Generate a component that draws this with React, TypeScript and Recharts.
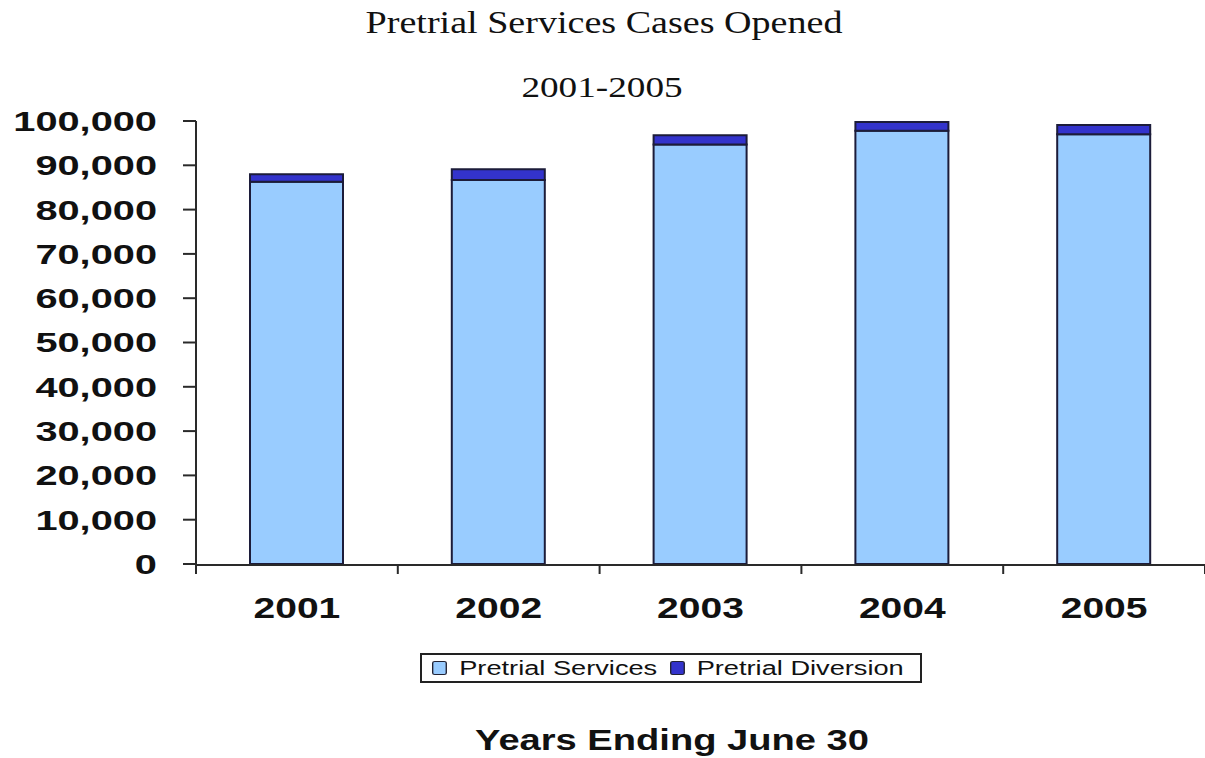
import React from 'react';
import { BarChart, Bar, XAxis, YAxis, Legend } from 'recharts';

const years = ['2001', '2002', '2003', '2004', '2005'];
const pretrialServices = [86300, 86700, 94700, 97800, 97000];
const pretrialDiversion = [1700, 2400, 2100, 2000, 2100];
const yTicks = [0, 10000, 20000, 30000, 40000, 50000, 60000, 70000, 80000, 90000, 100000];
const boundaryTicks = [0, 1, 2, 3, 4, 5];
const seriesNames = ['Pretrial Services', 'Pretrial Diversion'];

const titleLine1 = 'Pretrial Services Cases Opened';
const titleLine2 = '2001-2005';
const xTitle = 'Years Ending June 30';

const data = years.map((year, i) => ({
  year,
  slot: i + 0.5,
  services: pretrialServices[i],
  diversion: pretrialDiversion[i],
}));

const AXIS = '#2a2a2a';
const BAR_STROKE = '#1c1c3a';
const SANS = '"Liberation Sans", Arial, sans-serif';
const SERIF = '"Liberation Serif", "Times New Roman", serif';

const YTick = (props: any) => {
  const { x, y, payload } = props;
  return (
    <text
      x={x}
      y={y}
      dy="0.355em"
      textAnchor="end"
      fill="#111"
      fontSize={28}
      fontWeight="bold"
      fontFamily={SANS}
      transform={`translate(${x} ${y}) scale(1.42 1) translate(${-x} ${-y})`}
    >
      {Number(payload.value).toLocaleString('en-US')}
    </text>
  );
};

const XTick = (props: any) => {
  const { x, y, payload } = props;
  return (
    <text
      x={x}
      y={y}
      dy="0.71em"
      textAnchor="middle"
      fill="#111"
      fontSize={30}
      fontWeight="bold"
      fontFamily={SANS}
      transform={`translate(${x} ${y}) scale(1.3 1) translate(${-x} ${-y})`}
    >
      {payload.value}
    </text>
  );
};

const EmptyTick = () => <g />;

const LegendBox = (props: any) => {
  const payload = [...(props.payload || [])].sort(
    (a: any, b: any) => seriesNames.indexOf(a.value) - seriesNames.indexOf(b.value)
  );
  return (
    <div
      style={{
        position: 'relative',
        boxSizing: 'border-box',
        border: '2px solid #222',
        height: 30,
        width: 502,
        background: '#fff',
      }}
    >
      <div
        style={{
          position: 'absolute',
          left: 10,
          top: 0,
          height: 26,
          display: 'flex',
          alignItems: 'center',
          transform: 'scaleX(1.36)',
          transformOrigin: 'left center',
          fontFamily: SANS,
          fontSize: 20,
          color: '#111',
          whiteSpace: 'nowrap',
        }}
      >
        {payload.map((entry: any, i: number) => (
          <span key={i} style={{ display: 'inline-flex', alignItems: 'center', marginRight: i === 0 ? 9 : 0 }}>
            <span
              style={{
                display: 'inline-block',
                boxSizing: 'border-box',
                width: 11,
                height: 14,
                background: entry.color,
                border: '1.5px solid #223',
                borderRadius: 2,
                marginRight: 9,
              }}
            />
            {entry.value}
          </span>
        ))}
      </div>
    </div>
  );
};

export default function App() {
  return (
    <div style={{ position: 'absolute', left: 0, top: 0, width: 1205, height: 758, background: '#fff', overflow: 'hidden' }}>
      <div
        style={{
          position: 'absolute', left: 204, width: 800, top: 6, textAlign: 'center',
          fontFamily: SERIF, fontSize: 32, lineHeight: '32px', color: '#111',
          transform: 'scaleX(1.19)', transformOrigin: 'center',
        }}
      >
        {titleLine1}
      </div>
      <div
        style={{
          position: 'absolute', left: 202, width: 800, top: 72, textAlign: 'center',
          fontFamily: SERIF, fontSize: 30, lineHeight: '30px', color: '#111',
          transform: 'scaleX(1.24)', transformOrigin: 'center',
        }}
      >
        {titleLine2}
      </div>
      <div
        style={{
          position: 'absolute', left: 372, width: 600, top: 725, textAlign: 'center',
          fontFamily: SANS, fontSize: 30, lineHeight: '30px', fontWeight: 'bold', color: '#111',
          transform: 'scaleX(1.27)', transformOrigin: 'center',
        }}
      >
        {xTitle}
      </div>
      <BarChart
        width={1205}
        height={758}
        data={data}
        margin={{ top: 121, right: 0, bottom: 162, left: 0 }}
        barCategoryGap={0}
        style={{ position: 'absolute', left: 0, top: 0 }}
      >
        <XAxis
          xAxisId="bounds"
          dataKey="slot"
          type="number"
          domain={[0, 5]}
          ticks={boundaryTicks}
          interval={0}
          height={1}
          tick={<EmptyTick />}
          tickSize={9}
          tickLine={{ stroke: AXIS, strokeWidth: 2 }}
          axisLine={{ stroke: AXIS, strokeWidth: 2 }}
          allowDataOverflow
        />
        <XAxis
          dataKey="year"
          height={1}
          tickLine={false}
          axisLine={false}
          tickSize={0}
          tickMargin={33}
          interval={0}
          tick={<XTick />}
        />
        <YAxis
          width={196}
          domain={[0, 100000]}
          ticks={yTicks}
          interval={0}
          tickSize={13}
          tickMargin={26}
          axisLine={{ stroke: AXIS, strokeWidth: 2 }}
          tickLine={{ stroke: AXIS, strokeWidth: 2 }}
          tick={<YTick />}
        />
        <Legend
          verticalAlign="bottom"
          align="left"
          content={<LegendBox />}
          wrapperStyle={{ left: 420, top: 653, width: 502, height: 30 }}
        />
        <Bar
          dataKey="services"
          name="Pretrial Services"
          stackId="a"
          fill="#99CCFF"
          stroke={BAR_STROKE}
          strokeWidth={2}
          barSize={93}
          isAnimationActive={false}
        />
        <Bar
          dataKey="diversion"
          name="Pretrial Diversion"
          stackId="a"
          fill="#3333CC"
          stroke={BAR_STROKE}
          strokeWidth={2}
          barSize={93}
          isAnimationActive={false}
        />
      </BarChart>
    </div>
  );
}
